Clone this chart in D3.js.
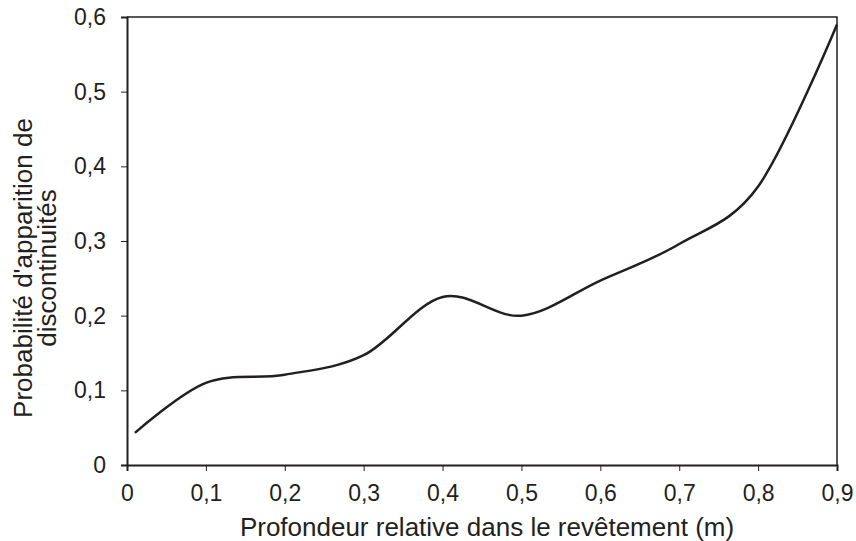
<!DOCTYPE html>
<html>
<head>
<meta charset="utf-8">
<script src="https://cdn.jsdelivr.net/npm/d3@7"></script>
<style>
  body { margin: 0; background: #fff; }
  svg text { font-family: "Liberation Sans", Arial, sans-serif; fill: #231f20; }
</style>
</head>
<body>
<div id="chart"></div>
<script>
// Depth points and probability values
const depths = [0.01, 0.1, 0.2, 0.3, 0.4, 0.5, 0.6, 0.7, 0.8, 0.9];
const probabilities = [0.043, 0.110, 0.121, 0.147, 0.225, 0.200, 0.247, 0.296, 0.373, 0.590];
const xTicks = [0, 0.1, 0.2, 0.3, 0.4, 0.5, 0.6, 0.7, 0.8, 0.9];
const yTicks = [0, 0.1, 0.2, 0.3, 0.4, 0.5, 0.6];
const xTitle = 'Profondeur relative dans le revêtement (m)';
const yTitleLines = ["Probabilité d'apparition de", 'discontinuités'];

const W = 856, H = 541;
const margin = { top: 17, right: 19, bottom: 76, left: 127 };
const width = W - margin.left - margin.right;
const height = H - margin.top - margin.bottom;
const ink = '#231f20';
const fmt = d => String(d).replace('.', ',');

const svg = d3.select('#chart').append('svg')
    .attr('width', W)
    .attr('height', H);

const g = svg.append('g')
    .attr('transform', `translate(${margin.left},${margin.top})`);

const x = d3.scaleLinear().domain([0, 0.9]).range([0, width]);
const y = d3.scaleLinear().domain([0, 0.6]).range([height, 0]);

// Frame (top and right)
g.append('path')
    .attr('d', `M0,0H${width}V${height}`)
    .attr('fill', 'none')
    .attr('stroke', ink)
    .attr('stroke-width', 1.5);

// X axis
const xAxis = g.append('g')
    .attr('transform', `translate(0,${height})`)
    .call(d3.axisBottom(x).tickValues(xTicks).tickFormat(fmt).tickSize(6).tickPadding(14));
xAxis.select('.domain').attr('stroke', ink).attr('stroke-width', 2);
xAxis.selectAll('.tick line').attr('stroke', ink).attr('stroke-width', 1);
xAxis.selectAll('text').style('font-size', '23px').attr('fill', ink);

// Y axis
const yAxis = g.append('g')
    .call(d3.axisLeft(y).tickValues(yTicks).tickFormat(fmt).tickSize(6).tickPadding(15));
yAxis.select('.domain').attr('stroke', ink).attr('stroke-width', 2);
yAxis.selectAll('.tick line').attr('stroke', ink).attr('stroke-width', 1);
yAxis.selectAll('text').style('font-size', '23px').attr('fill', ink);

// Curve (Excel-style smoothed line)
const line = d3.line()
    .x((d, i) => x(depths[i]))
    .y(d => y(d))
    .curve(d3.curveCardinal.tension(0));

g.append('path')
    .datum(probabilities)
    .attr('fill', 'none')
    .attr('stroke', ink)
    .attr('stroke-width', 2.5)
    .attr('d', line);

// X axis title
svg.append('text')
    .attr('x', 487)
    .attr('y', 536)
    .attr('text-anchor', 'middle')
    .style('font-size', '26px')
    .text(xTitle);

// Y axis title (two lines)
const yTitle = svg.append('text')
    .attr('transform', 'translate(32,268) rotate(-90)')
    .attr('text-anchor', 'middle')
    .style('font-size', '26px');
yTitleLines.forEach((t, i) => {
    yTitle.append('tspan')
        .attr('x', 0)
        .attr('dy', i === 0 ? 0 : 24)
        .text(t);
});
</script>
</body>
</html>
